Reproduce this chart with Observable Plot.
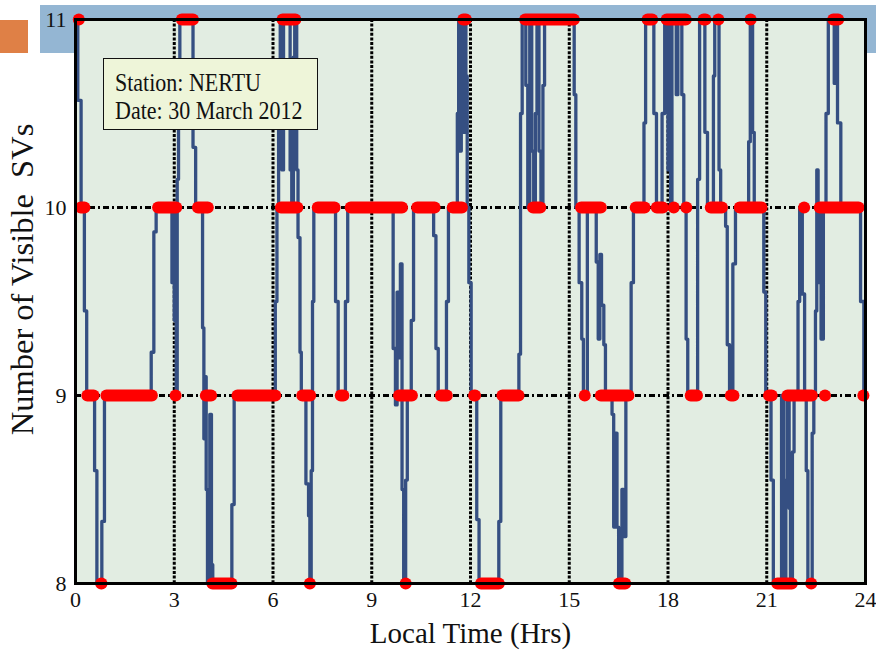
<!DOCTYPE html>
<html><head><meta charset="utf-8">
<script src="https://cdn.jsdelivr.net/npm/d3@7"></script>
<script src="https://cdn.jsdelivr.net/npm/@observablehq/plot@0.6"></script>
<style>
html,body{margin:0;padding:0;background:#fff}
body{width:876px;height:659px;overflow:hidden;position:relative;font-family:"Liberation Serif",serif}
#bar{position:absolute;left:40px;top:5px;width:836px;height:48px;background:#94b6d3}
#sq{position:absolute;left:0;top:20px;width:28px;height:33px;background:#df8046}
#chart{position:absolute;left:0;top:0}
#note{position:absolute;left:103px;top:58px;width:215px;height:72px;background:#eef5d9;border:1.5px solid #111;box-sizing:border-box;font-family:"Liberation Serif",serif;font-size:22px;color:#111}
#note div{position:absolute;left:11px;white-space:nowrap;transform:scaleY(1.15);transform-origin:left center}
</style>
</head><body>
<div id="bar"></div><div id="sq"></div>
<div id="chart"></div>
<div id="note"><div style="top:11px">Station: NERTU</div><div style="top:39px">Date: 30 March 2012</div></div>
<script>
// Blue line: time (hrs) and number of visible SVs (step points)
const lineTime = [0,0.07,0.17,0.27,0.34,0.58,0.65,0.8,0.88,2.3,2.38,2.45,2.93,2.97,3.0,3.03,3.06,3.09,3.13,3.17,3.57,3.65,3.86,3.9,3.94,3.97,4.01,4.08,4.13,4.17,4.75,4.82,6.07,6.12,6.17,6.22,6.27,6.32,6.52,6.57,6.62,6.66,6.72,6.76,6.82,6.86,7.0,7.08,7.12,7.16,7.2,7.24,7.9,7.98,8.2,8.27,9.65,9.72,9.77,9.83,9.87,9.92,9.97,10.03,10.08,10.2,10.27,10.88,10.95,11.02,11.27,11.33,11.6,11.64,11.68,11.72,11.78,11.82,11.86,11.9,11.95,12.02,12.19,12.26,12.86,12.92,13.47,13.52,13.57,13.68,13.74,13.8,13.86,13.92,13.97,14.02,14.08,14.14,14.2,14.25,15.15,15.2,15.3,15.38,15.43,15.55,15.82,15.88,15.93,15.98,16.05,16.1,16.3,16.35,16.4,16.45,16.5,16.6,16.65,16.72,16.88,16.95,17.27,17.32,17.57,17.65,17.82,17.9,18.0,18.04,18.08,18.12,18.25,18.3,18.42,18.48,18.55,18.6,18.9,18.96,19.12,19.2,19.38,19.42,19.55,19.6,19.75,19.8,19.87,19.97,20.05,20.45,20.5,20.57,20.62,20.91,20.97,21.13,21.2,21.45,21.52,21.58,21.63,21.68,21.72,21.78,21.83,21.95,22.0,22.08,22.15,22.2,22.25,22.38,22.43,22.48,22.52,22.56,22.6,22.65,22.72,22.8,22.87,23.05,23.1,23.15,23.25,23.85,23.95,24];
const lineCount = [11,10.57,10,9.45,9,8.6,8,8.33,9,9.23,9.87,10,9.6,10,9.4,9.8,9,10.15,10.6,11,10.32,10,9.36,8.77,9.1,8.5,8,8.9,8.1,8,8.42,9,9.5,10,10.6,11,10.2,11,10.2,10,10.8,11,10.2,9.84,9.23,9,8.53,8.36,8,8.6,9.5,10,9.5,9,9.5,10,9.25,8.95,9.55,9.2,9.7,8.5,8,8.55,9,9.4,10,9.85,9.25,9,9.5,10,10.5,11,10.3,11,10.4,11,10.7,10,9.6,9,8.34,8,8.33,9,9.22,10.5,11,10.65,10,11,10.3,10,10.5,11,10.3,10,10.65,11,10.6,10,9.6,9.3,9,10,9.71,9.3,9.75,9.48,9.27,9,8.9,8.3,8.8,8.3,8,8.5,8.25,9,9.6,10,10.45,11,10.5,10,10.5,11,10.2,11,10,11,10.6,11,10.6,10,9.3,9,10.15,11,10.4,10,10.7,11,10.2,10,9.9,9.27,9,9.7,10,10.35,11,10.4,10,9.55,9,8.55,8,9,8,8.55,9,8.4,8,8.7,9,9.5,10,9.54,9,8.6,8,8.8,9,9.45,10.2,9.6,10,9.3,10,10.5,11,10.66,11,10.45,10,9.5,9,9];

// Red markers: runs of samples at whole SV counts (start hr, end hr, count)
const runStart = [0,3.07,6.13,11.62,13.5,17.22,17.8,18.92,19.43,20.42,22.86,
  0,2.35,3.56,6.08,7.2,8.2,10.22,11.3,13.74,15.2,16.86,17.5,18.02,18.43,19.14,20.02,22.0,22.45,
  0.2,0.78,3.0,3.8,4.76,6.73,7.9,9.67,10.94,11.95,12.81,15.34,15.8,18.53,19.75,20.91,21.47,22.66,23.87,
  0.62,4.0,7.08,9.98,12.16,16.35,21.16,22.22];
const runEnd = [0.2,3.73,6.84,12.02,15.3,17.68,18.7,19.3,19.63,20.6,23.33,
  0.43,3.22,4.18,6.9,8.03,10.08,11.07,11.9,14.28,16.12,17.45,18.0,18.33,18.68,19.8,21.0,22.27,23.95,
  0.71,2.48,3.08,4.28,6.23,7.29,8.3,10.38,11.44,12.3,13.62,15.6,16.96,19.04,20.15,21.31,22.53,22.88,24,
  0.95,4.9,7.16,10.08,13.02,16.86,21.92,22.48];
const runCount = [11,11,11,11,11,11,11,11,11,11,11,
  10,10,10,10,10,10,10,10,10,10,10,10,10,10,10,10,10,10,
  9,9,9,9,9,9,9,9,9,9,9,9,9,9,9,9,9,9,9,
  8,8,8,8,8,8,8,8];

const xTicks = [0,3,6,9,12,15,18,21,24];
const yTicks = [8,9,10,11];
const xGrid = [3,6,9,12,15,18,21];
const yGrid = [9,10];
const xTitle = "Local Time (Hrs)";
const yTitle = "Number of Visible  SVs";

const line = lineTime.map((t,i)=>({t, v: lineCount[i]}));
const runs = runStart.map((s,i)=>({s, e: runEnd[i], v: runCount[i]}));
const inset = 0.16;

const font = "Liberation Serif";
const svg = Plot.plot({
  width: 876, height: 659,
  marginLeft: 75, marginRight: 11, marginTop: 19, marginBottom: 76,
  x: {domain: [0,24], axis: null},
  y: {domain: [8,11], axis: null},
  style: {background: "transparent", fontFamily: font, overflow: "visible"},
  marks: [
    Plot.frame({fill: "#e2ede2"}),
    Plot.ruleX(xGrid, {x: d=>d, stroke: "#000", strokeWidth: 3, strokeDasharray: "3,1.6"}),
    Plot.ruleY(yGrid, {y: d=>d, stroke: "#000", strokeWidth: 2.8, strokeDasharray: "6,3,2,3"}),
    Plot.line(line, {x: "t", y: "v", curve: "step-after", stroke: "#354f82", strokeWidth: 3.3}),
    Plot.link(runs, {
      x1: d => Math.min(d.s + inset, (d.s+d.e)/2),
      x2: d => Math.max(d.e - inset, (d.s+d.e)/2 + 0.001),
      y1: "v", y2: "v",
      stroke: "#ff0000", strokeWidth: 12, strokeLinecap: "round"
    }),
    Plot.frame({stroke: "#000", strokeWidth: 3}),
    Plot.text(xTicks, {x: d=>d, frameAnchor: "bottom", dy: 23, text: d=>String(d), fontSize: 22, fill: "#111", ariaLabel: "xticklabel"}),
    Plot.text(yTicks, {y: d=>d, frameAnchor: "left", dx: -9, textAnchor: "end", text: d=>String(d), fontSize: 22, fill: "#111", ariaLabel: "yticklabel"}),
    Plot.text([xTitle], {frameAnchor: "bottom", dy: 59, textAnchor: "middle", text: d=>d, fontSize: 29, fill: "#111", ariaLabel: "xtitle"}),
    Plot.text([yTitle], {frameAnchor: "left", dx: -53, dy: -22, rotate: -90, textAnchor: "middle", text: d=>d, fontSize: 32.5, fill: "#111", ariaLabel: "ytitle"})
  ]
});
document.getElementById("chart").appendChild(svg);

function stretch(selector, sx, sy) {
  d3.select(svg).selectAll(selector).each(function() {
    const g = document.createElementNS("http://www.w3.org/2000/svg", "g");
    this.parentNode.insertBefore(g, this);
    g.appendChild(this);
    const b = g.getBBox();
    const cx = b.x + b.width/2, cy = b.y + b.height/2;
    g.setAttribute("transform", `translate(${cx},${cy}) scale(${sx},${sy}) translate(${-cx},${-cy})`);
  });
}
stretch('g[aria-label="xticklabel"] text', 1, 1.55);
stretch('g[aria-label="yticklabel"] text', 1, 1.55);
stretch('g[aria-label="xtitle"] text', 1, 1.12);
stretch('g[aria-label="ytitle"] text', 1.08, 1);
</script>
</body></html>
